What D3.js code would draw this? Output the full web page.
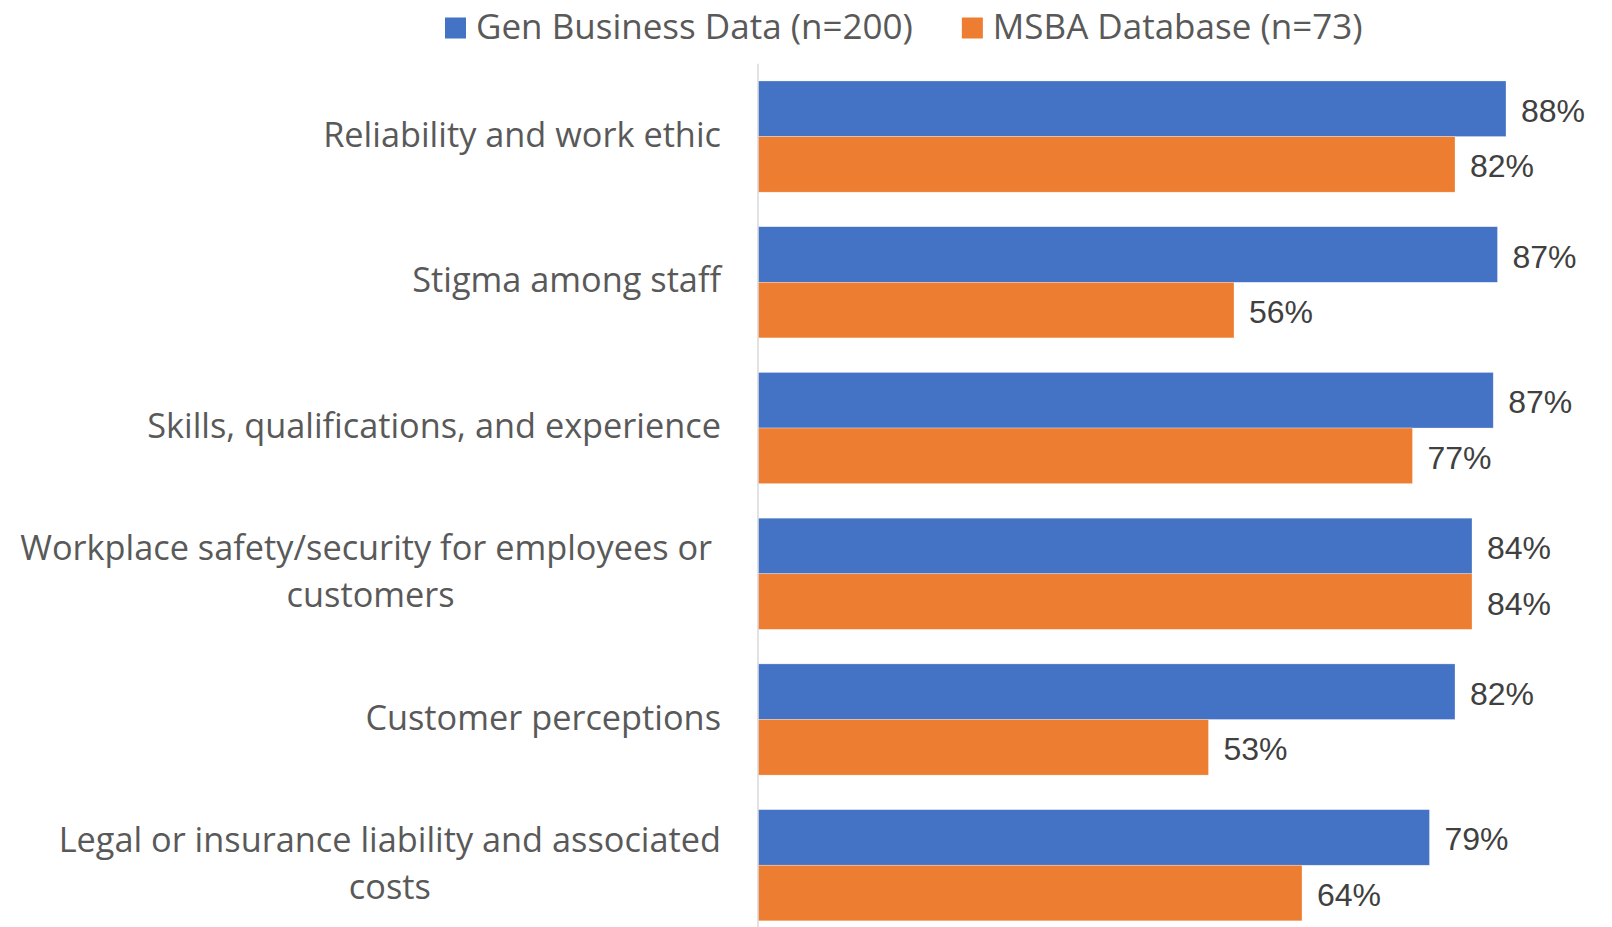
<!DOCTYPE html>
<style>
  body { margin: 0; background: #fff; }
  svg { display: block; }
  .cat text { font-family: 'Open Sans', sans-serif; font-size: 34.3px; fill: #595959; white-space: pre; }
  .legend text { font-family: 'Open Sans', sans-serif; font-size: 35px; fill: #595959; }
  .vals text { font-family: 'Liberation Sans', Arial, sans-serif; font-size: 32px; fill: #404040; }
  .axis line { stroke: #d9d9d9; stroke-width: 1.5; }
</style>
<body>
</body>
<script src="https://cdn.jsdelivr.net/npm/d3@7/dist/d3.min.js"></script>
<script>
  const categories = [
    'Reliability and work ethic',
    'Stigma among staff',
    'Skills, qualifications, and experience',
    'Workplace safety/security for employees or customers',
    'Customer perceptions',
    'Legal or insurance liability and associated costs',
  ];
  const categoryLines = [
    ['Reliability and work ethic'],
    ['Stigma among staff'],
    ['Skills, qualifications, and experience'],
    ['Workplace safety/security for employees or ', 'customers'],
    ['Customer perceptions'],
    ['Legal or insurance liability and associated', 'costs'],
  ];
  const seriesNames = ['Gen Business Data (n=200)', 'MSBA Database (n=73)'];
  const genValues = [88, 87, 86.5, 84, 82, 79];
  const msbaValues = [82, 56, 77, 84, 53, 64];
  const colors = ['#4472C4', '#ED7D31'];

  const w = 1612, h = 927;
  const svg = d3.select('body').append('svg')
    .attr('width', w)
    .attr('height', h);

  const x = d3.scaleLinear().domain([0, 100]).range([758, 1608]);
  const y = d3.scaleBand().domain(categories)
    .range([63.7, 938.1])
    .paddingInner(0.237)
    .paddingOuter(0.1185);
  const ySub = d3.scaleBand().domain([0, 1]).range([0, y.bandwidth()]);

  const rows = categories.map((c, i) => ({c, i, vals: [genValues[i], msbaValues[i]]}));

  // bars
  const bars = svg.append('g');
  rows.forEach(r => {
    bars.selectAll(null)
      .data(r.vals)
      .join('rect')
      .attr('x', x(0))
      .attr('y', (d, k) => y(r.c) + ySub(k))
      .attr('width', d => x(d) - x(0))
      .attr('height', ySub.bandwidth())
      .attr('fill', (d, k) => colors[k])
      .attr('stroke', '#fff')
      .attr('stroke-opacity', 0.5)
      .attr('stroke-width', 0.6);
  });

  // value axis line
  svg.append('g').attr('class', 'axis')
    .append('line')
    .attr('x1', x(0)).attr('x2', x(0))
    .attr('y1', y.range()[0]).attr('y2', y.range()[1]);

  // data labels
  const vals = svg.append('g').attr('class', 'vals');
  rows.forEach(r => {
    vals.selectAll(null)
      .data(r.vals)
      .join('text')
      .attr('x', d => x(d) + 15)
      .attr('y', (d, k) => y(r.c) + ySub(k) + ySub.bandwidth() / 2 + 13)
      .text(d => `${Math.round(d)}%`);
  });

  // category labels, centred as a block ending at the right edge
  const right = 721;
  const lineH = 47;
  const cat = svg.append('g').attr('class', 'cat');
  rows.forEach(r => {
    const lines = categoryLines[r.i];
    const g = cat.append('g');
    const mid = y(r.c) + y.bandwidth() / 2;
    const t = g.selectAll('text')
      .data(lines)
      .join('text')
      .attr('text-anchor', 'middle')
      .attr('y', (d, k) => mid + 10 + (k - (lines.length - 1) / 2) * lineH)
      .text(d => d);
    const maxW = d3.max(t.nodes(), n => n.getComputedTextLength());
    t.attr('x', right - maxW / 2);
  });

  // legend
  const legend = svg.append('g').attr('class', 'legend');
  let lx = 445;
  seriesNames.forEach((s, k) => {
    legend.append('rect')
      .attr('x', lx).attr('y', 17.5)
      .attr('width', 21).attr('height', 21)
      .attr('fill', colors[k]);
    const t = legend.append('text')
      .attr('x', lx + 31).attr('y', 39)
      .text(s);
    lx += 31 + t.node().getComputedTextLength() + 49;
  });
</script>
